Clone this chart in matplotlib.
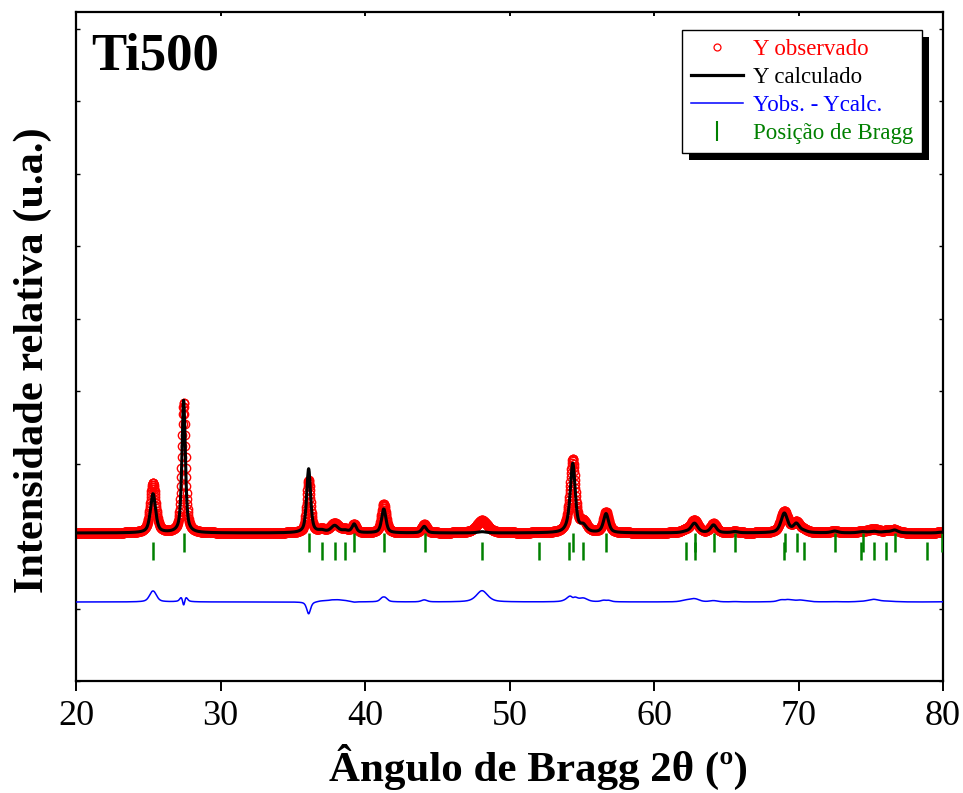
import numpy as np
import matplotlib
matplotlib.use("Agg")
import matplotlib.pyplot as plt
from matplotlib.patches import Rectangle
from matplotlib.lines import Line2D
from matplotlib.ticker import MultipleLocator

# Reflections used to build the observed and refined profiles
peak_pos    = [25.33, 27.45, 36.10, 37.00, 37.90, 38.62, 39.25, 41.30, 44.10, 48.10,
               54.10, 54.38, 55.10, 56.68, 62.20, 62.80, 64.12, 65.60, 69.02, 69.85,
               70.35, 72.50, 74.40, 75.20, 76.05, 76.65, 79.90]
obs_height  = [500, 1300, 520, 30, 90, 30, 80, 290, 85, 125,
               60, 700, 100, 205, 25, 125, 90, 15, 215, 95,
               25, 20, 15, 40, 15, 30, 10]
calc_height = [390, 1330, 640, 20, 70, 20, 85, 240, 65, 12,
               35, 675, 65, 190, 10, 95, 78, 12, 195, 85,
               15, 18, 12, 15, 10, 28, 8]
fwhm_obs    = [0.45, 0.30, 0.32, 0.60, 0.70, 0.60, 0.35, 0.38, 0.40, 0.90,
               0.60, 0.42, 0.60, 0.45, 0.70, 0.60, 0.50, 0.50, 0.60, 0.55,
               0.70, 0.60, 0.70, 0.80, 0.70, 0.60, 0.60]
fwhm_calc   = [0.42, 0.28, 0.32, 0.55, 0.60, 0.55, 0.35, 0.35, 0.38, 0.70,
               0.55, 0.40, 0.55, 0.42, 0.60, 0.55, 0.48, 0.50, 0.55, 0.50,
               0.60, 0.55, 0.60, 0.70, 0.60, 0.55, 0.55]
background  = 1480
diff_offset = 790

# Bragg positions of the two phases (rutile upper row, anatase lower row)
bragg_rutile  = [27.45, 36.10, 39.25, 41.30, 44.12, 54.38, 56.70, 62.85, 64.15, 65.62,
                 69.05, 69.88, 72.50, 74.45, 76.65, 79.90]
bragg_anatase = [25.33, 37.05, 37.95, 38.65, 48.08, 52.02, 54.10, 55.10, 62.20, 62.82,
                 68.98, 70.35, 74.30, 75.22, 76.05, 78.92]

x_ticks = [20, 30, 40, 50, 60, 70, 80]


def pseudo_voigt(x, x0, fwhm, eta=0.6):
    g = np.exp(-4 * np.log(2) * ((x - x0) / fwhm) ** 2)
    l = 1.0 / (1.0 + 4 * ((x - x0) / fwhm) ** 2)
    return eta * l + (1 - eta) * g


two_theta = np.arange(20.0, 80.0001, 0.02)
y_obs = np.full_like(two_theta, background, dtype=float)
y_calc = np.full_like(two_theta, background, dtype=float)
for p, ho, hc, wo, wc in zip(peak_pos, obs_height, calc_height, fwhm_obs, fwhm_calc):
    y_obs += ho * pseudo_voigt(two_theta, p, wo)
    y_calc += hc * pseudo_voigt(two_theta, p, wc)
y_diff = y_obs - y_calc + diff_offset

serif = ["Liberation Serif", "DejaVu Serif"]
plt.rcParams["font.family"] = serif

fig = plt.figure(figsize=(9.63, 7.93), dpi=100)
ax = fig.add_axes([76 / 963, 1 - 681 / 793, 867 / 963, 669 / 793])

ax.plot(two_theta, y_obs, linestyle="none", marker="o", markersize=6,
        markerfacecolor="none", markeredgecolor="red", markeredgewidth=1.0,
        zorder=2)
ax.vlines(bragg_rutile, 1290, 1480, color="#008000", linewidth=1.8, zorder=3)
ax.vlines(bragg_anatase, 1210, 1390, color="#008000", linewidth=1.8, zorder=3)
ax.plot(two_theta, y_calc, color="black", linewidth=2.2, zorder=4)
ax.plot(two_theta, y_diff, color="blue", linewidth=1.1, zorder=4)

ax.set_xlim(20, 80)
ax.set_ylim(0, 6690)
ax.set_xticks(x_ticks)
ax.set_xticklabels([str(t) for t in x_ticks])
ax.yaxis.set_major_locator(MultipleLocator(725))
ax.tick_params(axis="x", which="major", direction="out", length=7, width=1.4,
               labelsize=26, pad=7)
ax.tick_params(axis="x", which="major", top=True, labeltop=False)
for t in ax.xaxis.get_major_ticks():
    t.tick2line.set_markersize(3)
    t.tick2line.set_marker(3)  # inward tick on the top spine
ax.tick_params(axis="y", which="major", direction="in", length=3, width=1.0,
               left=True, right=True, labelleft=False)
for s in ax.spines.values():
    s.set_linewidth(1.6)

ax.text(0.017, 0.97, "Ti500", transform=ax.transAxes, fontsize=38,
        fontweight="bold", ha="left", va="top")

fig.text(538 / 963, 1 - 781 / 793, "Ângulo de Bragg 2θ (º)", fontsize=31,
         fontweight="bold", ha="center", va="baseline")
fig.text(33 / 963, 1 - 360 / 793, "Intensidade relativa (u.a.)", fontsize=30.5,
         fontweight="bold", rotation=90, ha="center", va="center")

handles = [
    Line2D([], [], linestyle="none", marker="o", markersize=5,
           markerfacecolor="none", markeredgecolor="red", markeredgewidth=0.9),
    Line2D([], [], color="black", linewidth=2.3),
    Line2D([], [], color="blue", linewidth=1.1),
    Line2D([], [], linestyle="none", marker="|", markersize=15,
           markeredgecolor="#008000", markeredgewidth=1.5),
]
labels = ["Y observado", "Y calculado", "Yobs. - Ycalc.", "Posição de Bragg"]
leg = ax.legend(handles, labels, loc="upper right",
                bbox_to_anchor=((922 - 76) / 867, (681 - 30) / 669),
                borderaxespad=0, fontsize=16.5, frameon=True, fancybox=False,
                edgecolor="black", framealpha=1, handlelength=2.3,
                handletextpad=0.4, labelspacing=0.3, borderpad=0.4)
leg.get_frame().set_linewidth(1.0)
leg.set_zorder(6)
for txt, c in zip(leg.get_texts(), ["red", "black", "blue", "#008000"]):
    txt.set_color(c)

# solid drop shadow behind the legend box
fig.canvas.draw()
bb = leg.get_window_extent().transformed(fig.transFigure.inverted())
dx, dy = 7 / 963, 7 / 793
shadow = Rectangle((bb.x0 + dx, bb.y0 - dy), bb.width, bb.height,
                   transform=fig.transFigure, facecolor="black",
                   edgecolor="none", zorder=5.5, clip_on=False)
ax.add_artist(shadow)

fig.savefig("out.png", dpi=100)
